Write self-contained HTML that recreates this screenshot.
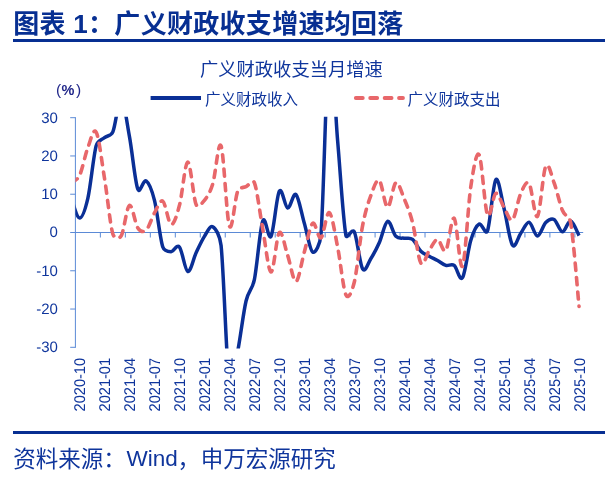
<!DOCTYPE html>
<html><head><meta charset="utf-8"><style>
html,body{margin:0;padding:0;background:#fff;}
body{width:608px;height:477px;overflow:hidden;}
svg{display:block;}
.xl,.yl{text-rendering:geometricPrecision;}
text{font-family:"Liberation Sans","Noto Sans CJK SC",sans-serif;}
.yl{font-size:15px;fill:#0f359c;}
.xl{font-size:15.5px;fill:#0f359c;}
.lg{font-size:15.5px;fill:#0f359c;}
.ct{font-size:18.3px;fill:#0f359c;}
.pct{font-size:15.5px;fill:#22288a;}
.tt{font-size:26px;letter-spacing:0.3px;font-weight:bold;fill:#072f92;}
.src{font-size:22.5px;fill:#0f359c;}
</style></head><body>
<svg width="608" height="477" viewBox="0 0 608 477">
<line x1="75.4" y1="117.2" x2="75.4" y2="347.8" stroke="#5b8ad6" stroke-width="1"/>
<line x1="70.2" y1="347.31" x2="75.4" y2="347.31" stroke="#5b8ad6" stroke-width="1"/>
<text x="57.9" y="352.21" text-anchor="end" class="yl">-30</text>
<line x1="70.2" y1="309.04" x2="75.4" y2="309.04" stroke="#5b8ad6" stroke-width="1"/>
<text x="57.9" y="313.94" text-anchor="end" class="yl">-20</text>
<line x1="70.2" y1="270.77" x2="75.4" y2="270.77" stroke="#5b8ad6" stroke-width="1"/>
<text x="57.9" y="275.67" text-anchor="end" class="yl">-10</text>
<line x1="70.2" y1="232.50" x2="75.4" y2="232.50" stroke="#5b8ad6" stroke-width="1"/>
<text x="57.9" y="237.40" text-anchor="end" class="yl">0</text>
<line x1="70.2" y1="194.23" x2="75.4" y2="194.23" stroke="#5b8ad6" stroke-width="1"/>
<text x="57.9" y="199.13" text-anchor="end" class="yl">10</text>
<line x1="70.2" y1="155.96" x2="75.4" y2="155.96" stroke="#5b8ad6" stroke-width="1"/>
<text x="57.9" y="160.86" text-anchor="end" class="yl">20</text>
<line x1="70.2" y1="117.69" x2="75.4" y2="117.69" stroke="#5b8ad6" stroke-width="1"/>
<text x="57.9" y="122.59" text-anchor="end" class="yl">30</text>
<line x1="75.4" y1="232.5" x2="583.2" y2="232.5" stroke="#5b8ad6" stroke-width="1"/>
<line x1="100.37" y1="232.5" x2="100.37" y2="237.50" stroke="#5b8ad6" stroke-width="1"/>
<line x1="125.35" y1="232.5" x2="125.35" y2="237.50" stroke="#5b8ad6" stroke-width="1"/>
<line x1="150.32" y1="232.5" x2="150.32" y2="237.50" stroke="#5b8ad6" stroke-width="1"/>
<line x1="175.30" y1="232.5" x2="175.30" y2="237.50" stroke="#5b8ad6" stroke-width="1"/>
<line x1="200.27" y1="232.5" x2="200.27" y2="237.50" stroke="#5b8ad6" stroke-width="1"/>
<line x1="225.24" y1="232.5" x2="225.24" y2="237.50" stroke="#5b8ad6" stroke-width="1"/>
<line x1="250.22" y1="232.5" x2="250.22" y2="237.50" stroke="#5b8ad6" stroke-width="1"/>
<line x1="275.19" y1="232.5" x2="275.19" y2="237.50" stroke="#5b8ad6" stroke-width="1"/>
<line x1="300.16" y1="232.5" x2="300.16" y2="237.50" stroke="#5b8ad6" stroke-width="1"/>
<line x1="325.14" y1="232.5" x2="325.14" y2="237.50" stroke="#5b8ad6" stroke-width="1"/>
<line x1="350.11" y1="232.5" x2="350.11" y2="237.50" stroke="#5b8ad6" stroke-width="1"/>
<line x1="375.09" y1="232.5" x2="375.09" y2="237.50" stroke="#5b8ad6" stroke-width="1"/>
<line x1="400.06" y1="232.5" x2="400.06" y2="237.50" stroke="#5b8ad6" stroke-width="1"/>
<line x1="425.03" y1="232.5" x2="425.03" y2="237.50" stroke="#5b8ad6" stroke-width="1"/>
<line x1="450.01" y1="232.5" x2="450.01" y2="237.50" stroke="#5b8ad6" stroke-width="1"/>
<line x1="474.98" y1="232.5" x2="474.98" y2="237.50" stroke="#5b8ad6" stroke-width="1"/>
<line x1="499.95" y1="232.5" x2="499.95" y2="237.50" stroke="#5b8ad6" stroke-width="1"/>
<line x1="524.93" y1="232.5" x2="524.93" y2="237.50" stroke="#5b8ad6" stroke-width="1"/>
<line x1="549.90" y1="232.5" x2="549.90" y2="237.50" stroke="#5b8ad6" stroke-width="1"/>
<line x1="574.88" y1="232.5" x2="574.88" y2="237.50" stroke="#5b8ad6" stroke-width="1"/>
<text transform="translate(85.06,358) rotate(-90)" text-anchor="end" class="xl" textLength="53.4" lengthAdjust="spacingAndGlyphs">2020-10</text>
<text transform="translate(110.04,358) rotate(-90)" text-anchor="end" class="xl" textLength="53.4" lengthAdjust="spacingAndGlyphs">2021-01</text>
<text transform="translate(135.01,358) rotate(-90)" text-anchor="end" class="xl" textLength="53.4" lengthAdjust="spacingAndGlyphs">2021-04</text>
<text transform="translate(159.98,358) rotate(-90)" text-anchor="end" class="xl" textLength="53.4" lengthAdjust="spacingAndGlyphs">2021-07</text>
<text transform="translate(184.96,358) rotate(-90)" text-anchor="end" class="xl" textLength="53.4" lengthAdjust="spacingAndGlyphs">2021-10</text>
<text transform="translate(209.93,358) rotate(-90)" text-anchor="end" class="xl" textLength="53.4" lengthAdjust="spacingAndGlyphs">2022-01</text>
<text transform="translate(234.90,358) rotate(-90)" text-anchor="end" class="xl" textLength="53.4" lengthAdjust="spacingAndGlyphs">2022-04</text>
<text transform="translate(259.88,358) rotate(-90)" text-anchor="end" class="xl" textLength="53.4" lengthAdjust="spacingAndGlyphs">2022-07</text>
<text transform="translate(284.85,358) rotate(-90)" text-anchor="end" class="xl" textLength="53.4" lengthAdjust="spacingAndGlyphs">2022-10</text>
<text transform="translate(309.83,358) rotate(-90)" text-anchor="end" class="xl" textLength="53.4" lengthAdjust="spacingAndGlyphs">2023-01</text>
<text transform="translate(334.80,358) rotate(-90)" text-anchor="end" class="xl" textLength="53.4" lengthAdjust="spacingAndGlyphs">2023-04</text>
<text transform="translate(359.77,358) rotate(-90)" text-anchor="end" class="xl" textLength="53.4" lengthAdjust="spacingAndGlyphs">2023-07</text>
<text transform="translate(384.75,358) rotate(-90)" text-anchor="end" class="xl" textLength="53.4" lengthAdjust="spacingAndGlyphs">2023-10</text>
<text transform="translate(409.72,358) rotate(-90)" text-anchor="end" class="xl" textLength="53.4" lengthAdjust="spacingAndGlyphs">2024-01</text>
<text transform="translate(434.70,358) rotate(-90)" text-anchor="end" class="xl" textLength="53.4" lengthAdjust="spacingAndGlyphs">2024-04</text>
<text transform="translate(459.67,358) rotate(-90)" text-anchor="end" class="xl" textLength="53.4" lengthAdjust="spacingAndGlyphs">2024-07</text>
<text transform="translate(484.64,358) rotate(-90)" text-anchor="end" class="xl" textLength="53.4" lengthAdjust="spacingAndGlyphs">2024-10</text>
<text transform="translate(509.62,358) rotate(-90)" text-anchor="end" class="xl" textLength="53.4" lengthAdjust="spacingAndGlyphs">2025-01</text>
<text transform="translate(534.59,358) rotate(-90)" text-anchor="end" class="xl" textLength="53.4" lengthAdjust="spacingAndGlyphs">2025-04</text>
<text transform="translate(559.56,358) rotate(-90)" text-anchor="end" class="xl" textLength="53.4" lengthAdjust="spacingAndGlyphs">2025-07</text>
<text transform="translate(584.54,358) rotate(-90)" text-anchor="end" class="xl" textLength="53.4" lengthAdjust="spacingAndGlyphs">2025-10</text>
<clipPath id="pc"><rect x="75.4" y="116.8" width="507.80000000000007" height="231.59999999999997"/></clipPath>
<g clip-path="url(#pc)">
<path d="M71.24,198.06 C72.63,201.37 76.79,217.96 79.56,217.96 C82.34,217.96 85.47,208.57 87.89,198.06 C90.66,186.00 93.44,155.70 96.21,145.63 C97.75,140.05 101.76,139.89 104.54,137.59 C107.31,135.29 110.88,136.50 112.86,131.85 C115.64,125.34 118.41,97.73 121.19,98.56 C123.96,99.38 126.73,121.71 129.51,136.82 C132.28,151.94 135.06,181.92 137.83,189.25 C139.93,194.79 143.38,178.99 146.16,180.84 C148.93,182.69 151.90,190.06 154.48,200.35 C157.26,211.39 160.03,238.50 162.81,247.04 C164.28,251.56 168.36,251.63 171.13,251.63 C173.91,251.63 176.68,243.73 179.46,247.04 C182.23,250.36 185.01,270.58 187.78,271.54 C190.56,272.49 193.33,258.65 196.11,252.78 C198.88,246.92 201.66,240.66 204.43,236.33 C207.21,231.99 209.98,225.23 212.76,226.76 C215.53,228.29 220.01,235.31 221.08,245.51 C223.86,271.98 226.63,367.98 229.40,385.58 C232.16,403.08 234.95,365.23 237.73,351.14 C240.50,337.04 243.28,312.93 246.05,301.00 C248.66,289.81 252.04,290.83 254.38,279.57 C257.15,266.24 259.93,228.23 262.70,221.02 C265.48,213.81 268.25,241.30 271.03,236.33 C273.80,231.35 276.58,195.89 279.35,191.17 C282.13,186.45 284.90,207.43 287.68,208.01 C290.45,208.58 293.23,192.06 296.00,194.61 C298.78,197.16 301.55,213.75 304.33,223.32 C307.10,232.88 309.88,250.17 312.65,252.02 C315.43,253.87 320.21,244.12 320.98,234.41 C323.75,199.27 326.53,56.78 329.30,41.15 C332.07,25.52 334.85,108.25 337.62,140.65 C340.40,173.05 343.17,220.38 345.95,235.56 C346.77,240.07 352.22,227.64 354.27,231.73 C357.05,237.28 359.82,264.39 362.60,268.86 C365.37,273.32 368.15,262.86 370.92,258.52 C373.70,254.19 376.47,249.02 379.25,242.83 C382.02,236.65 384.80,222.49 387.57,221.40 C390.35,220.32 393.12,233.52 395.90,236.33 C398.67,239.13 401.45,237.73 404.22,238.24 C407.00,238.75 409.77,237.22 412.55,239.39 C415.32,241.56 418.10,248.45 420.87,251.25 C423.65,254.06 426.42,254.70 429.20,256.23 C431.97,257.76 434.74,258.91 437.52,260.44 C440.29,261.97 443.07,264.58 445.84,265.41 C448.62,266.24 451.39,263.37 454.17,265.41 C456.94,267.45 459.72,281.87 462.49,277.66 C465.27,273.45 468.04,249.08 470.82,240.15 C473.50,231.51 476.37,225.61 479.14,224.08 C481.92,222.55 485.57,236.03 487.47,230.97 C490.24,223.57 493.02,183.39 495.79,179.69 C498.57,175.99 501.34,197.87 504.12,208.77 C506.89,219.68 509.67,241.05 512.44,245.13 C515.22,249.21 517.99,237.09 520.77,233.27 C523.54,229.44 526.32,221.72 529.09,222.17 C531.87,222.61 534.64,235.88 537.41,235.94 C540.19,236.01 542.96,225.29 545.74,222.55 C548.51,219.81 551.29,217.96 554.06,219.49 C556.84,221.02 559.61,231.48 562.39,231.73 C565.16,231.99 567.94,220.38 570.71,221.02 C573.49,221.66 577.65,233.14 579.04,235.56" fill="none" stroke="#0a2f96" stroke-width="3.5" stroke-linejoin="round"/>
<path d="M71.24,182.75 C72.63,181.54 77.20,180.47 79.56,175.48 C82.34,169.61 85.11,154.75 87.89,147.54 C90.66,140.33 93.44,127.07 96.21,132.23 C98.99,137.40 101.76,161.57 104.54,178.54 C107.31,195.51 110.09,224.46 112.86,234.03 C114.05,238.13 119.04,239.64 121.19,235.94 C123.96,231.16 126.73,206.67 129.51,205.33 C132.28,203.99 135.06,223.76 137.83,227.91 C140.24,231.50 143.38,232.69 146.16,230.20 C148.93,227.72 151.71,217.83 154.48,212.98 C157.26,208.13 160.03,199.21 162.81,201.12 C165.58,203.03 168.36,223.76 171.13,224.46 C173.91,225.16 176.77,215.41 179.46,205.33 C182.23,194.93 185.01,162.21 187.78,162.08 C190.56,161.96 193.33,198.18 196.11,204.56 C197.97,208.84 201.66,203.80 204.43,200.35 C207.21,196.91 210.05,192.71 212.76,183.90 C215.53,174.84 218.31,138.99 221.08,146.01 C223.86,153.03 226.63,218.47 229.40,225.99 C232.18,233.52 234.95,197.74 237.73,191.17 C239.58,186.79 243.28,187.98 246.05,186.58 C248.83,185.17 252.69,178.49 254.38,182.75 C257.15,189.77 259.93,213.81 262.70,228.67 C265.48,243.53 268.25,271.28 271.03,271.92 C273.80,272.56 276.58,235.24 279.35,232.50 C282.13,229.76 284.90,247.30 287.68,255.46 C290.45,263.63 293.23,282.06 296.00,281.49 C298.78,280.91 301.55,261.71 304.33,252.02 C307.10,242.32 309.88,225.68 312.65,223.32 C315.43,220.96 318.20,239.64 320.98,237.86 C323.75,236.07 326.53,211.07 329.30,212.60 C332.07,214.13 334.85,233.33 337.62,247.04 C340.40,260.76 343.17,289.01 345.95,294.88 C348.72,300.75 352.51,289.60 354.27,282.25 C357.05,270.71 359.82,240.09 362.60,225.61 C365.37,211.13 368.15,202.90 370.92,195.38 C373.70,187.85 376.47,178.48 379.25,180.45 C382.02,182.43 384.80,206.86 387.57,207.24 C390.35,207.62 393.12,184.15 395.90,182.75 C398.67,181.35 401.45,192.19 404.22,198.82 C407.00,205.46 409.77,211.83 412.55,222.55 C415.32,233.27 418.10,258.46 420.87,263.12 C423.65,267.77 426.42,254.44 429.20,250.49 C431.97,246.53 434.74,239.39 437.52,239.39 C440.29,239.39 443.07,253.99 445.84,250.49 C448.62,246.98 451.39,215.72 454.17,218.34 C456.94,220.96 459.72,271.47 462.49,266.18 C465.27,260.88 468.04,205.14 470.82,186.58 C473.25,170.34 476.37,150.09 479.14,154.81 C481.92,159.53 484.69,208.45 487.47,214.90 C490.24,221.34 493.02,194.68 495.79,193.46 C498.57,192.25 501.34,203.22 504.12,207.62 C506.89,212.03 509.67,222.23 512.44,219.87 C515.22,217.51 517.99,199.52 520.77,193.46 C523.47,187.57 526.32,179.69 529.09,183.51 C531.87,187.34 534.64,219.30 537.41,216.43 C540.19,213.56 542.96,171.91 545.74,166.29 C548.51,160.68 551.29,175.41 554.06,182.75 C556.84,190.08 559.61,203.61 562.39,210.30 C565.16,217.00 569.42,215.48 570.71,222.93 C573.49,238.94 577.65,292.46 579.04,306.36" fill="none" stroke="#e8676a" stroke-width="3.6" stroke-dasharray="7.2 7.2" stroke-linecap="round" stroke-linejoin="round"/>
</g>
<line x1="150.6" y1="98.0" x2="201" y2="98.0" stroke="#0a2f96" stroke-width="3.8"/>
<line x1="355.8" y1="98" x2="403" y2="98" stroke="#e8676a" stroke-width="3.8" stroke-dasharray="7 7.4" stroke-linecap="round"/>
<text x="205" y="104.8" class="lg">广义财政收入</text>
<text x="407.5" y="104.8" class="lg">广义财政支出</text>
<text x="200" y="76.2" class="ct">广义财政收支当月增速</text>
<text x="56" y="95.3" class="pct">(<tspan dx="0.4" style="font-size:14.5px;font-weight:bold">%</tspan><tspan dx="1.6">)</tspan></text>
<text x="13.2" y="32.6" class="tt">图表 1：广义财政收支增速均回落</text>
<rect x="13" y="39" width="592" height="3" fill="#072f92"/>
<rect x="13" y="431" width="592" height="3" fill="#072f92"/>
<text x="13.3" y="466.6" class="src">资料来源：</text>
<text x="126.4" y="466.4" class="src">Wind</text>
<text x="177.6" y="466.6" class="src">，</text>
<text x="200.8" y="466.8" class="src">申万宏源研究</text>
</svg>
</body></html>
